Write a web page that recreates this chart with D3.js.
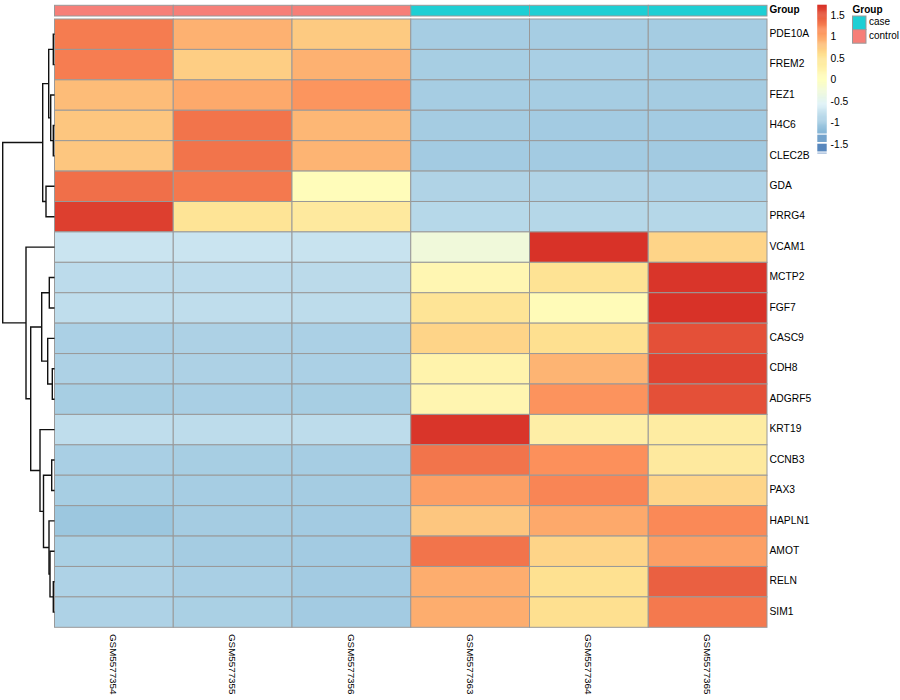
<!DOCTYPE html>
<html>
<head>
<meta charset="utf-8">
<script src="https://cdn.jsdelivr.net/npm/d3@7"></script>
<style>
  html, body { margin: 0; padding: 0; background: #fff; }
  svg { display: block; font-family: "Liberation Sans", Arial, Helvetica, sans-serif; }
</style>
</head>
<body>
<svg id="chart" width="900" height="700"></svg>
<script>
// ---------------- DATA ----------------
const genes = ["PDE10A","FREM2","FEZ1","H4C6","CLEC2B","GDA","PRRG4","VCAM1","MCTP2","FGF7",
               "CASC9","CDH8","ADGRF5","KRT19","CCNB3","PAX3","HAPLN1","AMOT","RELN","SIM1"];
const samples = ["GSM5577354","GSM5577355","GSM5577356","GSM5577363","GSM5577364","GSM5577365"];
const groups  = ["control","control","control","case","case","case"];

// row-scaled expression values, one array per sample (same order as genes)
const GSM5577354 = [1.28, 1.27, 0.85, 0.78, 0.78, 1.36, 1.66, -0.72, -0.82, -0.80, -0.94, -0.93, -0.97, -0.80, -0.96, -0.97, -1.05, -0.95, -0.92, -0.92];
const GSM5577355 = [0.92, 0.72, 0.98, 1.33, 1.33, 1.30, 0.52, -0.72, -0.82, -0.80, -0.93, -0.93, -0.96, -0.81, -0.97, -0.98, -0.99, -0.99, -0.96, -0.95];
const GSM5577356 = [0.75, 0.92, 1.12, 0.88, 0.90, 0.08, 0.42, -0.73, -0.83, -0.81, -0.94, -0.94, -0.97, -0.81, -0.98, -0.99, -1.00, -1.00, -1.00, -1.00];
const GSM5577363 = [-0.98, -0.97, -0.98, -0.99, -1.00, -0.91, -0.86, -0.25, 0.18, 0.52, 0.68, 0.25, 0.20, 1.72, 1.33, 1.05, 0.78, 1.33, 0.95, 0.95];
const GSM5577364 = [-0.98, -0.96, -0.98, -1.00, -1.00, -0.91, -0.87, 1.74, 0.55, 0.10, 0.60, 0.90, 1.13, 0.33, 1.15, 1.22, 0.98, 0.68, 0.58, 0.60];
const GSM5577365 = [-0.99, -0.98, -0.99, -1.00, -1.01, -0.92, -0.87, 0.68, 1.72, 1.74, 1.55, 1.63, 1.55, 0.38, 0.42, 0.67, 1.20, 1.05, 1.45, 1.30];
const sampleValues = [GSM5577354, GSM5577355, GSM5577356, GSM5577363, GSM5577364, GSM5577365];

// row dendrogram (merge heights)
const rowTree = {h: 51.8, c: [
  {h: 11.8, c: [
    {h: 5.8, c: [
      {h: 1.2, c: ["PDE10A", "FREM2"]},
      {h: 3.8, c: ["FEZ1", {h: 1.2, c: ["H4C6", "CLEC2B"]}]}
    ]},
    {h: 8.5, c: ["GDA", "PRRG4"]}
  ]},
  {h: 28.5, c: [
    "VCAM1",
    {h: 23.8, c: [
      {h: 12.8, c: [
        {h: 5.2, c: ["MCTP2", "FGF7"]},
        {h: 6.8, c: ["CASC9", {h: 2.2, c: ["CDH8", "ADGRF5"]}]}
      ]},
      {h: 14.5, c: [
        "KRT19",
        {h: 11.0, c: [
          {h: 2.8, c: ["CCNB3", "PAX3"]},
          {h: 5.5, c: ["HAPLN1", {h: 4.5, c: ["AMOT", {h: 1.2, c: ["RELN", "SIM1"]}]}]}
        ]}
      ]}
    ]}
  ]}
]};

const palette = ["#4575B4","#91BFDB","#E0F3F8","#FFFFBF","#FEE090","#FC8D59","#D73027"];
const valueMin = -1.71, valueMax = 1.75;
const legendTicks = [1.5, 1, 0.5, 0, -0.5, -1, -1.5];
const legendBlocks = [[-1.27, -1.44], [-1.48, -1.66], [-1.69, -1.705]];
const groupLevels = ["case", "control"];
const groupColors = ["#1ECFD4", "#F67F78"];

// ---------------- DRAW ----------------
const svg = d3.select("#chart");
svg.append("rect").attr("width", 900).attr("height", 700).attr("fill", "#fff");

const border = "#999999";
const x = d3.scaleBand().domain(samples).range([54.5, 767]);
const y = d3.scaleBand().domain(genes).range([19, 627.3]);
const color = d3.scaleLinear()
  .domain(palette.map((_, i) => valueMin + i * (valueMax - valueMin) / (palette.length - 1)))
  .range(palette).clamp(true);
const groupColor = d3.scaleOrdinal().domain(groupLevels).range(groupColors);

// cells
const cells = [];
samples.forEach((s, j) => genes.forEach((g, i) => cells.push({s, g, v: sampleValues[j][i]})));
svg.append("g").selectAll("rect").data(cells).join("rect")
  .attr("x", d => x(d.s)).attr("y", d => y(d.g))
  .attr("width", x.bandwidth()).attr("height", y.bandwidth())
  .attr("fill", d => color(d.v)).attr("stroke", border).attr("stroke-width", 1);

// annotation bar
const annY0 = 5.3, annY1 = 16;
svg.append("g").selectAll("rect").data(samples).join("rect")
  .attr("x", d => x(d)).attr("y", annY0)
  .attr("width", x.bandwidth()).attr("height", annY1 - annY0)
  .attr("fill", (d, i) => groupColor(groups[i])).attr("stroke", border).attr("stroke-width", 1);
svg.append("text").attr("x", 769.5).attr("y", (annY0 + annY1) / 2)
  .attr("dominant-baseline", "middle").attr("font-size", 10).attr("font-weight", "bold")
  .text("Group");

// row labels
svg.append("g").selectAll("text").data(genes).join("text")
  .attr("x", 769.5).attr("y", d => y(d) + y.bandwidth() / 2)
  .attr("dominant-baseline", "middle").attr("font-size", 10.3).text(d => d);

// column labels
svg.append("g").selectAll("text").data(samples).join("text")
  .attr("transform", d => `translate(${x(d) + x.bandwidth() / 2 - 1},634) rotate(90)`)
  .attr("dominant-baseline", "middle").attr("font-size", 9.8).text(d => d);

// dendrogram
const treeX = d3.scaleLinear().domain([0, rowTree.h]).range([54.5, 2.7]);
const treeG = svg.append("g").attr("fill", "none").attr("stroke", "#111").attr("stroke-width", 1.4);
function layout(node) {
  if (typeof node === "string") return {x: treeX(0), y: y(node) + y.bandwidth() / 2};
  const [a, b] = node.c.map(layout);
  const nx = treeX(node.h), ny = (a.y + b.y) / 2;
  treeG.append("path").attr("d", `M${a.x},${a.y}H${nx}V${b.y}H${b.x}`);
  return {x: nx, y: ny};
}
layout(rowTree);

// color legend
const ly = d3.scaleLinear().domain([valueMax, valueMin]).range([4.7, 153.6]);
const lgX = 817.3, lgW = 9.4;
const gradBottom = -1.234;
const nSteps = 120;
const steps = d3.range(nSteps).map(i => valueMax - i * (valueMax - gradBottom) / nSteps);
const stepH = (valueMax - gradBottom) / nSteps;
svg.append("g").selectAll("rect").data(steps).join("rect")
  .attr("x", lgX).attr("width", lgW)
  .attr("y", d => ly(d)).attr("height", d => ly(d - stepH) - ly(d) + 0.4)
  .attr("fill", d => color(d - stepH / 2));
svg.append("g").selectAll("rect").data(legendBlocks).join("rect")
  .attr("x", lgX).attr("width", lgW)
  .attr("y", d => ly(d[0])).attr("height", d => ly(d[1]) - ly(d[0]))
  .attr("fill", d => color((d[0] + d[1]) / 2));
svg.append("g").selectAll("text").data(legendTicks).join("text")
  .attr("x", 830.5).attr("y", d => ly(d) + 0.5).attr("dominant-baseline", "middle")
  .attr("font-size", 10.3).text(d => d);

// group legend
svg.append("text").attr("x", 852.5).attr("y", 10.5).attr("dominant-baseline", "middle")
  .attr("font-size", 10).attr("font-weight", "bold").text("Group");
const gl = svg.append("g").selectAll("g").data(groupLevels).join("g");
gl.append("rect").attr("x", 852.5).attr("y", (d, i) => 16 + i * 13.6)
  .attr("width", 13.5).attr("height", 13.6)
  .attr("fill", d => groupColor(d)).attr("stroke", border).attr("stroke-width", 1);
gl.append("text").attr("x", 869).attr("y", (d, i) => 16 + i * 13.6 + 6.8)
  .attr("dominant-baseline", "middle").attr("font-size", 10).text(d => d);
</script>
</body>
</html>
